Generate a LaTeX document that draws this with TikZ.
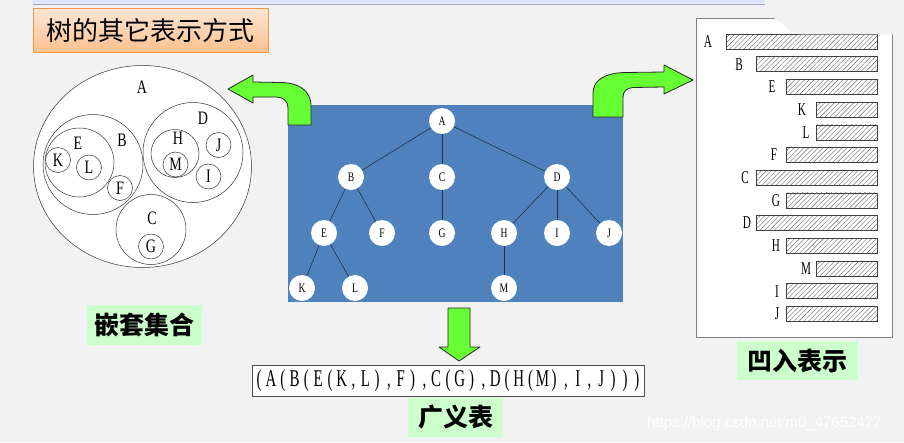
\documentclass[tikz,border=0pt]{standalone}
\usepackage{fontspec}
\usetikzlibrary{patterns.meta}
\setmainfont{Liberation Serif}
\newfontfamily\cjk{Noto Sans CJK SC}
\newfontfamily\nserif[FakeStretch=0.74]{Liberation Serif}
\newfontfamily\gfont[FakeStretch=0.62]{Liberation Serif}
\newfontfamily\wmfont{Liberation Sans}
\definecolor{bg}{HTML}{F2F2F2}
\definecolor{treeblue}{HTML}{4F81BD}
\definecolor{arrowgreen}{HTML}{66FF33}
\definecolor{labelgreen}{HTML}{CCFFCC}
\definecolor{orangeborder}{HTML}{F79646}
\definecolor{peachtop}{HTML}{FDE6D4}
\definecolor{peachbot}{HTML}{FBC08E}
\definecolor{edgecol}{HTML}{1F2F45}
\newcommand\gc[1]{\makebox[11.8pt]{#1}}
\tikzset{
  setc/.style={draw=black!80, line width=0.5pt},
  smallset/.style={circle, setc, minimum size=25pt, inner sep=0pt, font=\nserif\fontsize{19}{19}\selectfont},
  setl/.style={inner sep=0pt, font=\nserif\fontsize{19}{19}\selectfont},
  tn/.style={circle, fill=white, minimum size=26pt, inner sep=0pt, font=\nserif\fontsize{13}{13}\selectfont},
  tedge/.style={draw=edgecol, line width=0.6pt},
  barbox/.style={draw=black!75, line width=0.6pt, pattern={Lines[angle=45,distance=3.4pt,line width=0.4pt]}, pattern color=black!60},
  il/.style={inner sep=0pt, font=\gfont\fontsize{18}{18}\selectfont},
  garrow/.style={fill=arrowgreen, draw=black!85, line width=0.8pt, line join=round},
  glabel/.style={fill=labelgreen, inner sep=0pt, font=\cjk\bfseries\fontsize{25}{25}\selectfont}
}
\begin{document}
\begin{tikzpicture}[x=1pt,y=-1pt]
\useasboundingbox (0,0) rectangle (904,442);
\fill[bg] (0,0) rectangle (904,442);
% top bar
\fill[blue!12] (33,0) rectangle (765,3);
\draw[blue!25!gray!60, line width=0.8pt] (33,4.5) -- (765,4.5);

% title
\node[draw=orangeborder, line width=0.8pt, top color=peachtop, bottom color=peachbot,
      minimum width=235pt, minimum height=44pt, inner sep=0pt,
      font=\cjk\fontsize{26}{26}\selectfont] (title) at (150.5,30.5) {树的其它表示方式};

% ---------- nested sets ----------
\draw[setc, fill=white] (142.5,166.5) ellipse [x radius=109pt, y radius=101pt];
\node[setl] (lA) at (142,87) {A};
\draw[setc] (93,164.5) circle [radius=50pt];
\node[setl] (lB) at (122,140) {B};
\draw[setc] (79.5,162.5) circle [radius=34.5pt];
\node[setl] (lE) at (78,143) {E};
\node[smallset] (sK) at (58,160) {K};
\node[smallset] (sL) at (89,167.5) {L};
\node[smallset] (sF) at (120,188) {F};
\draw[setc] (193,152.5) circle [radius=50pt];
\node[setl] (lD) at (203,118) {D};
\draw[setc] (175,153.5) circle [radius=24pt];
\node[setl] (lH) at (178,138) {H};
\node[smallset] (sM) at (175.5,164.5) {M};
\node[smallset] (sJ) at (218.5,145) {J};
\node[smallset] (sI) at (208.5,176.5) {I};
\draw[setc] (151,229.5) circle [radius=35pt];
\node[setl] (lC) at (152,218) {C};
\node[smallset] (sG) at (151,246.5) {G};
\node[glabel, minimum width=115pt, minimum height=40pt] (lbl1) at (144.5,325) {嵌套集合};

% ---------- tree ----------
\node[fill=treeblue, minimum width=335pt, minimum height=197pt, inner sep=0pt] (panel) at (455.5,203.5) {};
\node[tn] (A) at (442,121) {A};
\node[tn] (B) at (351,177) {B};
\node[tn] (C) at (442,177) {C};
\node[tn] (D) at (557,177) {D};
\node[tn] (E) at (324,233) {E};
\node[tn] (F) at (382,233) {F};
\node[tn] (G) at (442,233) {G};
\node[tn] (H) at (504,233) {H};
\node[tn] (I) at (557,233) {I};
\node[tn] (J) at (609,233) {J};
\node[tn] (K) at (302,288) {K};
\node[tn] (L) at (355,288) {L};
\node[tn] (M) at (504,288) {M};
\draw[tedge] (A) -- (B);
\draw[tedge] (A) -- (C);
\draw[tedge] (A) -- (D);
\draw[tedge] (B) -- (E);
\draw[tedge] (B) -- (F);
\draw[tedge] (C) -- (G);
\draw[tedge] (D) -- (H);
\draw[tedge] (D) -- (I);
\draw[tedge] (D) -- (J);
\draw[tedge] (E) -- (K);
\draw[tedge] (E) -- (L);
\draw[tedge] (H) -- (M);

% ---------- green arrows ----------
\draw[garrow] (311,125) -- (311,106) .. controls (311,90) and (298,82.5) .. (280,82.5)
  -- (253,82) -- (253,75) -- (228,89) -- (253,103) -- (253,97) -- (276,97)
  .. controls (283,97) and (288,101) .. (288,108) -- (288,125) -- cycle;
\draw[garrow] (593,117) -- (593,93) .. controls (593,80) and (605,73) .. (625,72.5)
  -- (664,72) -- (664,65) -- (693,80) -- (664,94) -- (664,87) -- (633,87.5)
  .. controls (627,88) and (623,91) .. (623,97) -- (623,117) -- cycle;
\draw[garrow] (448,308) -- (470,308) -- (470,347) -- (480,347) -- (459,361) -- (439,347) -- (448,347) -- cycle;

% ---------- generalized list ----------
\node[draw=black!70, line width=0.7pt, fill=white, minimum width=392pt, minimum height=31pt, inner sep=0pt,
      font=\gfont\fontsize{24}{24}\selectfont] (gl) at (448,380.5)
  {\gc{(}\gc{A}\gc{(}\gc{B}\gc{(}\gc{E}\gc{(}\gc{K}\gc{,}\gc{L}\gc{)}\gc{,}\gc{F}\gc{)}\gc{,}\gc{C}\gc{(}\gc{G}\gc{)}\gc{,}\gc{D}\gc{(}\gc{H}\gc{(}\gc{M}\gc{)}\gc{,}\gc{I}\gc{,}\gc{J}\gc{)}\gc{)}\gc{)}};
\node[glabel, minimum width=95pt, minimum height=39pt] (lbl2) at (455.5,417.5) {广义表};

% ---------- indented representation ----------
\node[draw=black!50, line width=0.8pt, fill=white, minimum width=196.5pt, minimum height=318.5pt, inner sep=0pt] (paper) at (794.25,177.75) {};
\foreach \n/\lv/\lx [count=\i from 0] in {A/0/708,B/1/739,E/2/772,K/3/802,L/3/806,F/2/774,C/1/745,G/2/776,D/1/747,H/2/776,M/3/806,I/2/777,J/2/777}{
  \pgfmathsetmacro\bx{726+30*\lv}
  \pgfmathsetmacro\by{34+22.7*\i}
  \draw[barbox] (\bx,\by) rectangle (877,\by+15);
  \node[il] (r\n) at (\lx,\by+7.5) {\n};
}
\fill[bg] (770,17) .. controls (782,18) and (786,33.5) .. (800,34.3) -- (897,34.3) -- (897,14) -- (770,14) -- cycle;
\node[glabel, minimum width=121pt, minimum height=39pt] (lbl3) at (797.5,360.5) {凹入表示};

% watermark
\node[font=\wmfont\fontsize{15}{15}\selectfont, text=white, anchor=west, inner sep=0pt] (wm) at (647,424) {https://blog.csdn.net/m0\_47652477};
\end{tikzpicture}
\end{document}
